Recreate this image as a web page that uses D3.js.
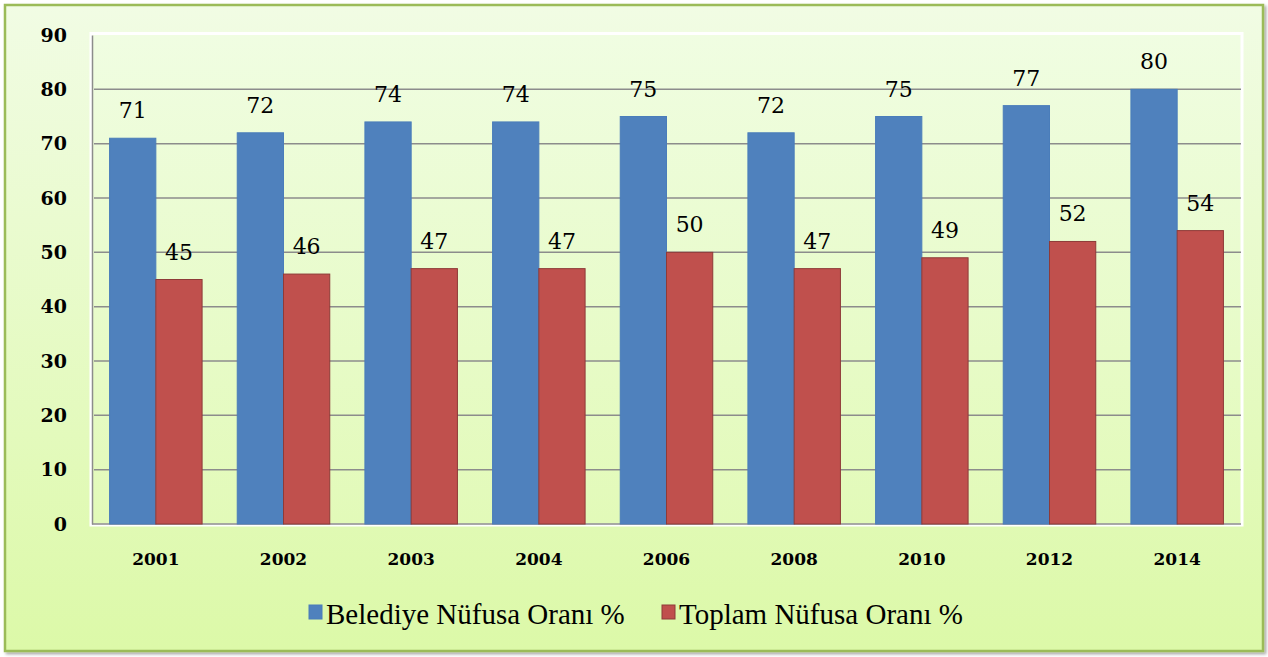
<!DOCTYPE html>
<html>
<head>
<meta charset="utf-8">
<script src="https://cdn.jsdelivr.net/npm/d3@7"></script>
<style>
  body { margin: 0; background: #fff; }
  svg { display: block; }
  .serif { font-family: 'Liberation Serif', 'Times New Roman', serif; }
  .wide { font-family: 'DejaVu Serif', serif; }
</style>
</head>
<body>
<div class="chart"></div>
<script>
// Data
const years = ['2001', '2002', '2003', '2004', '2006', '2008', '2010', '2012', '2014'];
const seriesNames = ['Belediye Nüfusa Oranı %', 'Toplam Nüfusa Oranı %'];
const belediye = [71, 72, 74, 74, 75, 72, 75, 77, 80];
const toplam = [45, 46, 47, 47, 50, 47, 49, 52, 54];
const yTicks = [0, 10, 20, 30, 40, 50, 60, 70, 80, 90];

const colors = ['#4F81BD', '#C0504D'];
const strokes = ['#4A7DBA', '#8E3A38'];

const W = 1268, H = 657;
const margin = { top: 35, right: 27, bottom: 133, left: 92 };

const svg = d3.select('.chart').append('svg')
    .attr('width', W)
    .attr('height', H);

const defs = svg.append('defs');
const bg = defs.append('linearGradient').attr('id', 'bg')
    .attr('x1', 0).attr('y1', 0).attr('x2', 0).attr('y2', 1);
bg.append('stop').attr('offset', '0%').attr('stop-color', '#F1FCE4');
bg.append('stop').attr('offset', '100%').attr('stop-color', '#DCF9A8');

const plotBg = defs.append('linearGradient').attr('id', 'plotbg')
    .attr('x1', 0).attr('y1', 0).attr('x2', 0).attr('y2', 1);
plotBg.append('stop').attr('offset', '0%').attr('stop-color', '#F0FDE2');
plotBg.append('stop').attr('offset', '100%').attr('stop-color', '#E2FAB8');

const shadow = defs.append('filter').attr('id', 'shadow')
    .attr('x', '-5%').attr('y', '-5%').attr('width', '110%').attr('height', '110%');
shadow.append('feDropShadow').attr('dx', 2).attr('dy', 2).attr('stdDeviation', 1.5)
    .attr('flood-color', '#000').attr('flood-opacity', 0.35);

// outer frame
svg.append('rect')
    .attr('x', 5).attr('y', 5)
    .attr('width', 1258).attr('height', 646)
    .attr('fill', 'url(#bg)')
    .attr('stroke', '#9BBB59')
    .attr('stroke-width', 2.5)
    .attr('filter', 'url(#shadow)');

const width = W - margin.left - margin.right;
const height = H - margin.top - margin.bottom;

const g = svg.append('g')
    .attr('transform', `translate(${margin.left},${margin.top})`);

// plot area
g.append('rect')
    .attr('x', -1).attr('y', -1.5)
    .attr('width', width + 2).attr('height', height + 2.5)
    .attr('fill', 'url(#plotbg)')
    .attr('stroke', '#fff')
    .attr('stroke-width', 3);

const x0 = d3.scaleBand()
    .domain(years)
    .range([0, width])
    .padding(0);

const x1 = d3.scaleBand()
    .domain([0, 1])
    .range([0, x0.bandwidth()])
    .paddingInner(0)
    .paddingOuter(0.38);

const y = d3.scaleLinear()
    .domain([0, 90])
    .range([height, 0]);

// grid
g.append('g')
    .selectAll('line')
    .data(yTicks.filter(d => d > 0 && d < 90))
    .enter()
    .append('line')
    .attr('x1', 2).attr('x2', width)
    .attr('y1', d => y(d)).attr('y2', d => y(d))
    .attr('stroke', '#8C8C8C')
    .attr('stroke-width', 1.5);

// y axis
const yAxis = g.append('g')
    .call(d3.axisLeft(y).tickValues(yTicks).tickSize(0).tickPadding(25));
yAxis.select('.domain').attr('stroke', '#8C8C8C').attr('stroke-width', 1.5);
yAxis.selectAll('text')
    .attr('class', 'wide')
    .style('font-weight', 'bold')
    .style('font-size', '19px')
    .attr('fill', '#000');

// bottom axis line
g.append('line')
    .attr('x1', 0).attr('x2', width)
    .attr('y1', height).attr('y2', height)
    .attr('stroke', '#8C8C8C')
    .attr('stroke-width', 1.5);

// x axis labels
const xAxis = g.append('g')
    .attr('transform', `translate(0,${height})`)
    .call(d3.axisBottom(x0).tickSize(0).tickPadding(29));
xAxis.select('.domain').remove();
xAxis.selectAll('text')
    .attr('class', 'wide')
    .style('font-weight', 'bold')
    .style('font-size', '17px')
    .attr('fill', '#000');
yAxis.attr('font-family', null);
xAxis.attr('font-family', null);

const series = [belediye, toplam];

series.forEach((vals, si) => {
    g.append('g')
        .selectAll('rect')
        .data(vals)
        .enter()
        .append('rect')
        .attr('x', (d, i) => x0(years[i]) + x1(si))
        .attr('y', d => y(d))
        .attr('width', x1.bandwidth())
        .attr('height', d => height - y(d))
        .attr('fill', colors[si])
        .attr('stroke', strokes[si])
        .attr('stroke-width', 1);

    g.append('g')
        .selectAll('text')
        .data(vals)
        .enter()
        .append('text')
        .attr('class', 'wide')
        .attr('x', (d, i) => x0(years[i]) + x1(si) + x1.bandwidth() / 2)
        .attr('y', d => y(d) - 20)
        .attr('text-anchor', 'middle')
        .style('font-size', '22px')
        .attr('fill', '#000')
        .text(d => d);
});

// legend
const legend = svg.append('g').attr('transform', 'translate(0,615)');
const legendX = [309, 662];
seriesNames.forEach((name, i) => {
    legend.append('rect')
        .attr('x', legendX[i]).attr('y', -10)
        .attr('width', 13).attr('height', 14)
        .attr('fill', colors[i])
        .attr('stroke', strokes[i])
        .attr('stroke-width', 1);
    legend.append('text')
        .attr('class', 'serif')
        .attr('x', legendX[i] + 17).attr('y', 9)
        .style('font-size', '29px')
        .attr('fill', '#000')
        .text(name);
});
</script>
</body>
</html>
